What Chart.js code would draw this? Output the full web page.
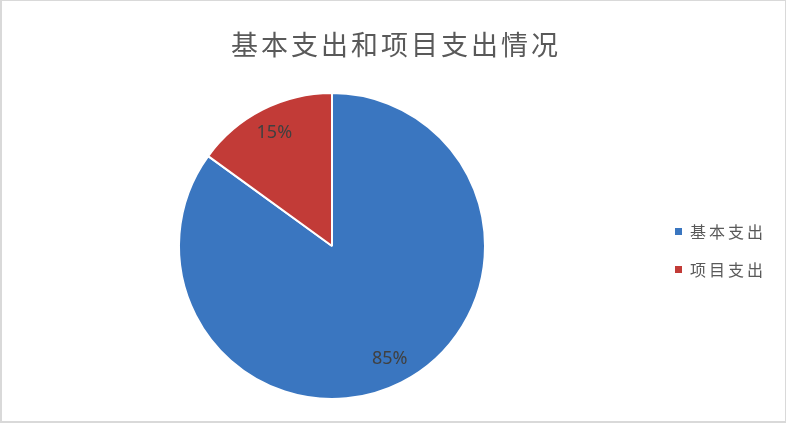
<!DOCTYPE html>
<html>
<head>
<meta charset="utf-8">
<script src="https://cdn.jsdelivr.net/npm/chart.js"></script>
<style>
    html, body { margin: 0; padding: 0; background: #fff; }
    .frame { position: relative; width: 786px; height: 423px; box-sizing: border-box; border: 2px solid #d9d9d9; border-top-width: 1px; border-right-width: 1px; }
    #pieChart { position: absolute; left: -2px; top: -1px; }
</style>
</head>
<body>
<div class="frame">
    <canvas id="pieChart" width="786" height="423"></canvas>
</div>

<script>
    // 数据
    const chartTitle = '基本支出和项目支出情况';
    const categories = ['基本支出', '项目支出'];
    const shares = [85, 15];
    const sliceColors = ['#3a76c0', '#c23b37'];

    // 标题、图例、百分比标签
    const textPlugin = {
        id: 'officeText',
        afterDatasetsDraw(chart) {
            const ctx = chart.ctx;
            const meta = chart.getDatasetMeta(0);
            const total = shares.reduce((a, b) => a + b, 0);

            ctx.save();
            ctx.textBaseline = 'middle';
            ctx.textAlign = 'center';
            ctx.fillStyle = '#404040';
            ctx.font = '18px "Noto Sans", sans-serif';
            meta.data.forEach((arc, i) => {
                const p = arc.getProps(['x', 'y', 'startAngle', 'endAngle', 'outerRadius'], true);
                const mid = (p.startAngle + p.endAngle) / 2;
                const r = p.outerRadius * 0.83;
                const text = Math.round(shares[i] / total * 100) + '%';
                ctx.fillText(text, p.x + Math.cos(mid) * r, p.y + Math.sin(mid) * r);
            });

            // 标题
            ctx.fillStyle = '#595959';
            ctx.font = '27px "Noto Sans CJK SC", sans-serif';
            ctx.letterSpacing = '3px';
            ctx.fillText(chartTitle, 396, 45);

            // 图例
            ctx.textAlign = 'left';
            ctx.font = '16px "Noto Sans CJK SC", sans-serif';
            ctx.letterSpacing = '3px';
            categories.forEach((name, i) => {
                const y = 232 + i * 38;
                ctx.fillStyle = sliceColors[i];
                ctx.fillRect(675, y - 4, 7, 7);
                ctx.fillStyle = '#595959';
                ctx.fillText(name, 690, y);
            });
            ctx.restore();
        }
    };

    new Chart(document.getElementById('pieChart'), {
        type: 'pie',
        data: {
            labels: categories,
            datasets: [{
                data: shares,
                backgroundColor: sliceColors,
                borderColor: '#ffffff',
                borderWidth: 2
            }]
        },
        options: {
            responsive: false,
            animation: false,
            layout: {
                padding: { top: 92, bottom: 23, left: 178, right: 300 }
            },
            plugins: {
                legend: { display: false },
                title: { display: false },
                tooltip: { enabled: false }
            }
        },
        plugins: [textPlugin]
    });
</script>
</body>
</html>
